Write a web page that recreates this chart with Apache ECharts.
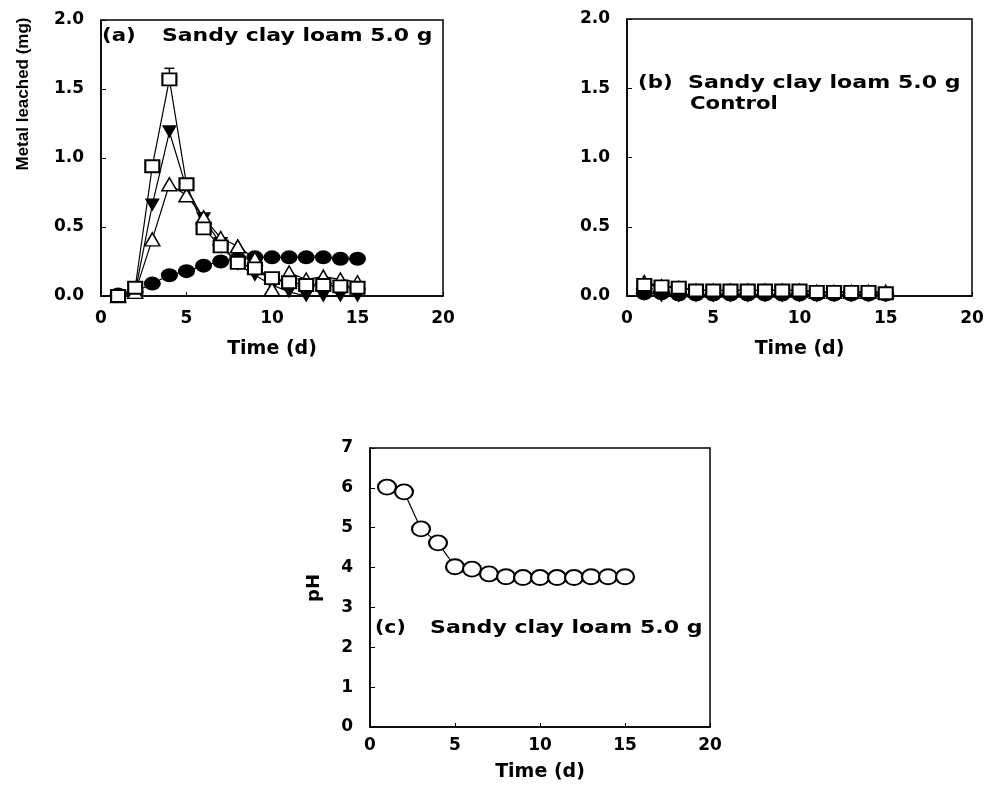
<!DOCTYPE html>
<html>
<head>
<meta charset="utf-8">
<script src="https://cdn.jsdelivr.net/npm/echarts@6/dist/echarts.min.js"></script>
<style>
html, body { margin: 0; background: #fff; }
#chart { width: 987px; height: 795px; }
</style>
</head>
<body>
<div id="chart"></div>
<script>
// data
const days = [1, 2, 3, 4, 5, 6, 7, 8, 9, 10, 11, 12, 13, 14, 15];
const xTicks = [0, 5, 10, 15, 20];
const metalTicks = [0, 0.5, 1.0, 1.5, 2.0];
const phTicks = [0, 1, 2, 3, 4, 5, 6, 7];

// (a) Sandy clay loam 5.0 g
const aCircle = [0.01, 0.03, 0.09, 0.15, 0.18, 0.22, 0.25, 0.27, 0.28, 0.28, 0.28, 0.28, 0.28, 0.27, 0.27];
const aDownTri = [0.0, 0.03, 0.66, 1.19, 0.78, 0.56, 0.38, 0.23, 0.15, 0.08, 0.03, 0.0, 0.0, 0.0, 0.0];
const aUpTri = [0.0, 0.03, 0.41, 0.81, 0.73, 0.57, 0.42, 0.36, 0.27, 0.05, 0.17, 0.12, 0.14, 0.12, 0.1];
const aSquare = [0.0, 0.06, 0.94, 1.57, 0.81, 0.49, 0.36, 0.24, 0.2, 0.13, 0.1, 0.08, 0.08, 0.07, 0.06];
const aErrBar = [[4, 1.57, 1.65]];

// (b) control
const bCircle = [0.02, 0.02, 0.01, 0.01, 0.01, 0.01, 0.01, 0.01, 0.01, 0.01, 0.01, 0.01, 0.01, 0.01, 0.01];
const bDownTri = [0.01, 0.0, 0.0, 0.0, 0.0, 0.0, 0.0, 0.0, 0.0, 0.0, 0.0, 0.0, 0.0, 0.0, 0.0];
const bUpTri = [0.1, 0.07, 0.06, 0.04, 0.04, 0.04, 0.04, 0.04, 0.04, 0.04, 0.03, 0.03, 0.03, 0.03, 0.03];
const bSquare = [0.08, 0.07, 0.06, 0.04, 0.04, 0.04, 0.04, 0.04, 0.04, 0.04, 0.03, 0.03, 0.03, 0.03, 0.02];

// (c) pH
const cPH = [6.02, 5.9, 4.97, 4.62, 4.02, 3.96, 3.84, 3.77, 3.75, 3.75, 3.75, 3.75, 3.77, 3.77, 3.77];

const FONT = "DejaVu Sans";
const pts = (ys) => days.map((d, i) => [d, ys[i]]);

const filledCircle = { symbol: "circle", symbolSize: [17, 14], itemStyle: { color: "#000" } };
const openCircle = { symbol: "circle", symbolSize: [18, 15], itemStyle: { color: "#fff", borderColor: "#000", borderWidth: 2 } };
const openSquare = { symbol: "rect", symbolSize: [14, 12], itemStyle: { color: "#fff", borderColor: "#000", borderWidth: 2 } };
const filledDown = { symbol: "triangle", symbolRotate: 180, symbolSize: [15, 13], itemStyle: { color: "#000" } };
const openUp = { symbol: "triangle", symbolSize: [15, 13], itemStyle: { color: "#fff", borderColor: "#000", borderWidth: 1.5 } };

function line(name, idx, ys, look) {
  return Object.assign({
    name: name,
    type: "line",
    xAxisIndex: idx,
    yAxisIndex: idx,
    data: pts(ys),
    showAllSymbol: true,
    lineStyle: { color: "#000", width: 1.2 },
    emphasis: { disabled: true },
    clip: false,
  }, look);
}

function xAxis(idx, margin, gap) {
  return {
    gridIndex: idx,
    type: "value",
    min: xTicks[0],
    max: xTicks[xTicks.length - 1],
    interval: xTicks[1] - xTicks[0],
    axisLine: { show: true, onZero: false, lineStyle: { color: "#000", width: 1.5 } },
    axisTick: { inside: true, length: 4, lineStyle: { color: "#000" } },
    splitLine: { show: false },
    axisLabel: { margin: margin, color: "#000", fontFamily: FONT, fontWeight: "bold", fontSize: 17 },
    name: "Time (d)",
    nameLocation: "middle",
    nameGap: gap,
    nameTextStyle: { color: "#000", fontFamily: FONT, fontWeight: "bold", fontSize: 19 },
  };
}

function yAxis(idx, ticks, fmt) {
  return {
    gridIndex: idx,
    type: "value",
    min: ticks[0],
    max: ticks[ticks.length - 1],
    interval: ticks[1] - ticks[0],
    axisLine: { show: true, onZero: false, lineStyle: { color: "#000", width: 1.5 } },
    axisTick: { inside: true, length: 5, lineStyle: { color: "#000" } },
    splitLine: { show: false },
    axisLabel: { margin: 17, color: "#000", fontFamily: FONT, fontWeight: "bold", fontSize: 17, formatter: fmt },
  };
}

const oneDec = (v) => v.toFixed(1);

function errBar(params, api) {
  const lo = api.coord([api.value(0), api.value(1)]);
  const hi = api.coord([api.value(0), api.value(2)]);
  const st = { stroke: "#000", lineWidth: 1.5 };
  return {
    type: "group",
    children: [
      { type: "line", shape: { x1: lo[0], y1: lo[1], x2: hi[0], y2: hi[1] }, style: st },
      { type: "line", shape: { x1: hi[0] - 5, y1: hi[1], x2: hi[0] + 5, y2: hi[1] }, style: st },
    ],
  };
}

function label(x, y, text, sx, size) {
  return {
    type: "text",
    x: x,
    y: y,
    scaleX: sx,
    style: { text: text, fill: "#000", font: "bold " + (size || 17) + "px " + FONT, textVerticalAlign: "middle" },
  };
}

function yName(x, y, text, font) {
  return {
    type: "text", x: x, y: y, rotation: Math.PI / 2,
    style: { text: text, fill: "#000", font: font, textAlign: "center", textVerticalAlign: "middle" },
  };
}

let myChart = echarts.init(document.getElementById("chart"));
myChart.setOption({
  animation: false,
  backgroundColor: "#fff",
  grid: [
    { left: 101, top: 20, width: 342, height: 276, show: true, borderColor: "#000", borderWidth: 1.5 },
    { left: 627, top: 19, width: 345, height: 277, show: true, borderColor: "#000", borderWidth: 1.5 },
    { left: 370, top: 448, width: 340, height: 279, show: true, borderColor: "#000", borderWidth: 1.5 },
  ],
  xAxis: [xAxis(0, 14, 44), xAxis(1, 14, 44), xAxis(2, 10, 36)],
  yAxis: [yAxis(0, metalTicks, oneDec), yAxis(1, metalTicks, oneDec), yAxis(2, phTicks)],
  graphic: [
    // y axis titles, reading bottom to top
    yName(23, 94, "Metal leached (mg)", "bold 17px 'Liberation Sans'"),
    yName(314, 588, "pH", "bold 18px " + FONT),
    // panel labels
    label(102, 37, "(a)", 1.25),
    label(162, 37, "Sandy clay loam 5.0 g", 1.29),
    label(638, 84, "(b)", 1.25),
    label(688, 84, "Sandy clay loam 5.0 g", 1.3),
    label(690, 105, "Control", 1.25),
    label(375, 629, "(c)", 1.2),
    label(430, 629, "Sandy clay loam 5.0 g", 1.3),
  ],
  series: [
    line("a-circle", 0, aCircle, filledCircle),
    line("a-down", 0, aDownTri, filledDown),
    line("a-up", 0, aUpTri, openUp),
    {
      type: "custom",
      xAxisIndex: 0,
      yAxisIndex: 0,
      renderItem: errBar,
      encode: { x: 0, y: [1, 2] },
      data: aErrBar,
    },
    line("a-square", 0, aSquare, openSquare),
    line("b-circle", 1, bCircle, filledCircle),
    line("b-down", 1, bDownTri, filledDown),
    line("b-up", 1, bUpTri, openUp),
    line("b-square", 1, bSquare, openSquare),
    line("c-ph", 2, cPH, openCircle),
  ],
});
</script>
</body>
</html>
